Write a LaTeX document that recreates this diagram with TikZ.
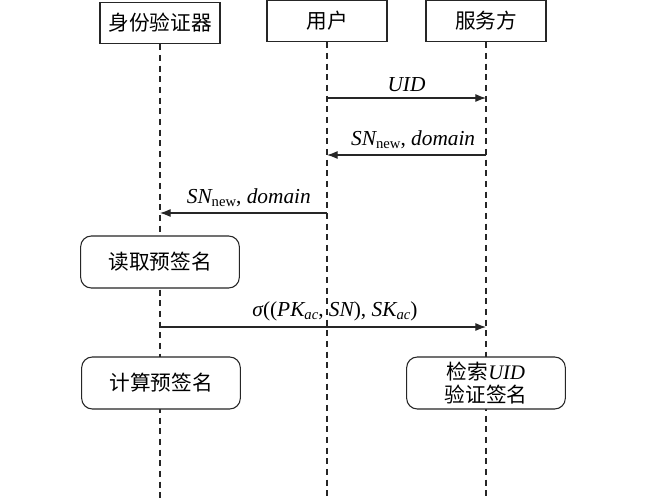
\documentclass[tikz,border=0pt]{standalone}
\usepackage{fontspec}
\setmainfont{Liberation Serif}
\newfontfamily\cjk{Noto Sans CJK SC}
\usetikzlibrary{arrows.meta,positioning}
\newcommand{\latit}[1]{{\rmfamily\itshape #1}}
\newcommand{\lowsub}[1]{\raisebox{-2.5pt}{\fontsize{11}{12}\selectfont #1}}
\tikzset{
  every picture/.style={line cap=butt,line join=miter},
  actor box/.style={
    draw=black!85,
    fill=white,
    line width=0.8pt,
    minimum width=90pt,
    minimum height=31pt,
    inner sep=2pt,
    font=\cjk\fontsize{15.5}{18}\selectfont
  },
  step box/.style={
    draw=black!85,
    fill=white,
    rounded corners=8pt,
    line width=0.8pt,
    minimum width=119pt,
    minimum height=39pt,
    align=center,
    inner sep=2pt,
    font=\cjk\fontsize{15.5}{17}\selectfont
  },
  life line/.style={draw=black!85, line width=0.8pt, dash pattern=on 4.5pt off 3.5pt},
  msg/.style={
    draw=black!85,
    -{Latex[length=8pt,width=6pt]},
    line width=0.8pt
  },
  msg label/.style={font=\fontsize{16}{18}\selectfont, above=3pt, inner sep=1pt}
}
\begin{document}
\begin{tikzpicture}[x=0.75pt,y=-0.75pt]
\useasboundingbox[fill=white] (0,0) rectangle (647,500);

% participants
\node[actor box] (auth) at (160,23) {身份验证器};
\node[actor box] (user) at (327,21) {用户};
\node[actor box] (serv) at (486,21) {服务方};

% lifelines
\coordinate (end) at (0,500);
\draw[life line] (auth.south) -- (auth.south |- end);
\draw[life line] (user.south) -- (user.south |- end);
\draw[life line] (serv.south) -- (serv.south |- end);

% message rows
\coordinate (r1) at (0,98);
\coordinate (r2) at (0,155);
\coordinate (r3) at (0,213);
\coordinate (r4) at (0,327);

\draw[msg] (user |- r1) -- node[msg label] {\latit{UID}} (serv |- r1);
\draw[msg] (serv |- r2) -- node[msg label, xshift=5pt] {\latit{SN}\lowsub{new}, \latit{domain}} (user |- r2);
\draw[msg] (user |- r3) -- node[msg label, xshift=4pt] {\latit{SN}\lowsub{new}, \latit{domain}} (auth |- r3);
\draw[msg] (auth |- r4) -- node[msg label, xshift=9pt] {\latit{σ}((\latit{PK}\lowsub{\latit{ac}}, \latit{SN}), \latit{SK}\lowsub{\latit{ac}})} (serv |- r4);

% local steps
\node[step box] (read) at (160,262) {读取预签名};
\node[step box] (calc) at (161,383) {计算预签名};
\node[step box] (check) at (486,383) {检索\latit{UID}\\验证签名};
\end{tikzpicture}
\end{document}
